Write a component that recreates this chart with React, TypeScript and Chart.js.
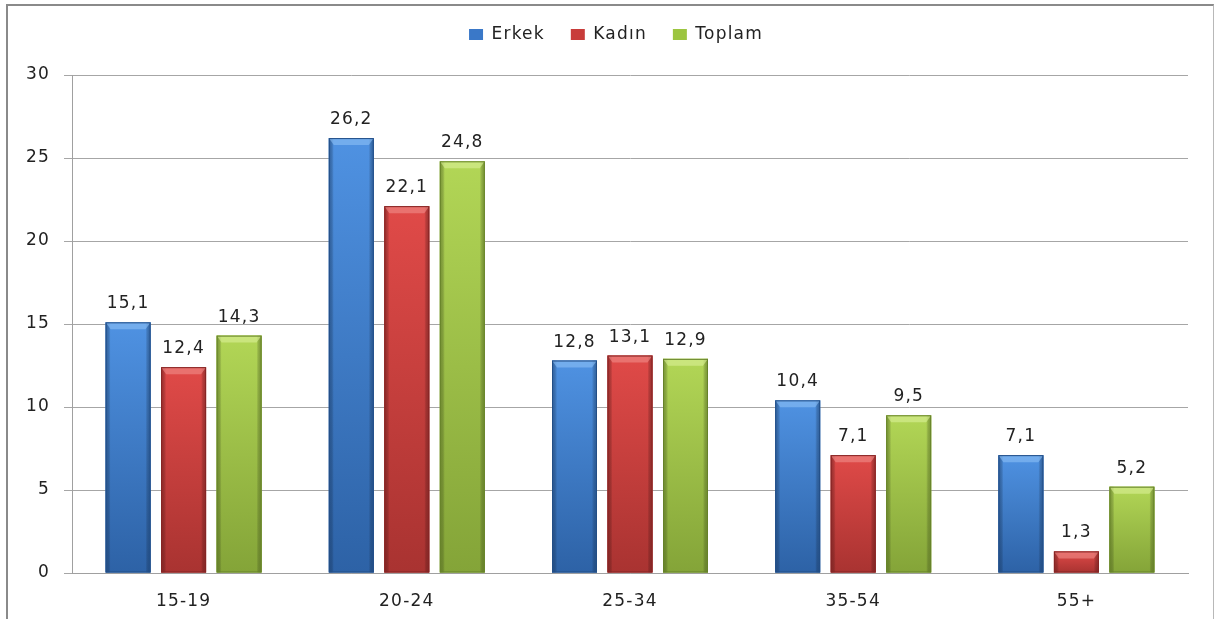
import React, { useEffect, useRef } from "react";
import { Chart, registerables } from "chart.js";

Chart.register(...registerables);

const categories = ["15-19", "20-24", "25-34", "35-54", "55+"];
const seriesNames = ["Erkek", "Kadın", "Toplam"];
const erkek = [15.1, 26.2, 12.8, 10.4, 7.1];
const kadin = [12.4, 22.1, 13.1, 7.1, 1.3];
const toplam = [14.3, 24.8, 12.9, 9.5, 5.2];
const yTickValues = [0, 5, 10, 15, 20, 25, 30];

const palettes = [
  { base: "#3a78c8", top: "#4f92e2", bottom: "#2d62a6", edge: "#234e86", light: "#8cc0f5" },
  { base: "#c83c3a", top: "#e04a48", bottom: "#a93331", edge: "#842524", light: "#f08e8b" },
  { base: "#9cc540", top: "#b2d656", bottom: "#84a438", edge: "#66822a", light: "#daf098" },
];

const FONT = "'DejaVu Sans', sans-serif";
const FS = 17;
const SPACING = "1.2px";

const spacingPlugin = {
  id: "letterSpacing",
  beforeUpdate(chart: any) {
    (chart.ctx as any).letterSpacing = SPACING;
  },
  beforeDraw(chart: any) {
    (chart.ctx as any).letterSpacing = SPACING;
  },
};

const barStylePlugin = {
  id: "barStyle",
  afterDatasetsDraw(chart: any) {
    const ctx = chart.ctx as CanvasRenderingContext2D;
    chart.data.datasets.forEach((_ds: any, i: number) => {
      const meta = chart.getDatasetMeta(i);
      const p = palettes[i];
      meta.data.forEach((el: any) => {
        const { x, y, base, width } = el.getProps(["x", "y", "base", "width"], true);
        const l = x - width / 2;
        const r = x + width / 2;
        const t = Math.min(y, base);
        const b = Math.max(y, base);
        const h = b - t;
        ctx.save();
        const g = ctx.createLinearGradient(0, t, 0, b);
        g.addColorStop(0, p.top);
        g.addColorStop(1, p.bottom);
        ctx.fillStyle = g;
        ctx.fillRect(l, t, width, h);
        const ew = Math.min(5, width / 6);
        const gl = ctx.createLinearGradient(l, 0, l + ew, 0);
        gl.addColorStop(0, p.edge);
        gl.addColorStop(1, "rgba(0,0,0,0)");
        ctx.globalAlpha = 0.6;
        ctx.fillStyle = gl;
        ctx.fillRect(l, t, ew, h);
        const gr = ctx.createLinearGradient(r - ew, 0, r, 0);
        gr.addColorStop(0, "rgba(0,0,0,0)");
        gr.addColorStop(1, p.edge);
        ctx.fillStyle = gr;
        ctx.fillRect(r - ew, t, ew, h);
        const bh = Math.min(7, h / 2);
        ctx.globalAlpha = 0.6;
        ctx.beginPath();
        ctx.moveTo(l, t);
        ctx.lineTo(r, t);
        ctx.lineTo(r - ew, t + bh);
        ctx.lineTo(l + ew, t + bh);
        ctx.closePath();
        ctx.fillStyle = p.light;
        ctx.fill();
        ctx.globalAlpha = 1;
        ctx.strokeStyle = p.edge;
        ctx.lineWidth = 1;
        ctx.strokeRect(l + 0.5, t + 0.5, width - 1, h - 1);
        ctx.restore();
      });
    });
  },
};

const valueLabelPlugin = {
  id: "valueLabels",
  afterDatasetsDraw(chart: any) {
    const ctx = chart.ctx as CanvasRenderingContext2D;
    ctx.save();
    (ctx as any).letterSpacing = SPACING;
    ctx.font = `${FS}px ${FONT}`;
    ctx.fillStyle = "#222";
    ctx.textAlign = "center";
    ctx.textBaseline = "alphabetic";
    chart.data.datasets.forEach((ds: any, i: number) => {
      const meta = chart.getDatasetMeta(i);
      meta.data.forEach((el: any, j: number) => {
        const v = ds.data[j] as number;
        ctx.fillText(v.toFixed(1).replace(".", ","), el.x, el.y - 14);
      });
    });
    ctx.restore();
  },
};

const legendSpacePlugin = {
  id: "legendSpace",
  afterInit(chart: any) {
    const lg = chart.legend;
    if (lg && !lg.__patched) {
      const origFit = lg.fit;
      lg.fit = function () {
        origFit.call(this);
        this.height = 75;
      };
      const origDraw = lg.draw;
      lg.draw = function (...args: any[]) {
        const c = this.ctx as CanvasRenderingContext2D;
        c.save();
        c.translate(22, 0);
        origDraw.apply(this, args);
        c.restore();
      };
      lg.__patched = true;
    }
  },
};

export default function App() {
  const ref = useRef<HTMLCanvasElement | null>(null);

  useEffect(() => {
    if (!ref.current) return;
    const data = [erkek, kadin, toplam];
    const chart = new Chart(ref.current, {
      type: "bar",
      data: {
        labels: categories,
        datasets: seriesNames.map((name, i) => ({
          label: name,
          data: data[i],
          backgroundColor: palettes[i].base,
          borderColor: palettes[i].edge,
          borderWidth: 0,
          barPercentage: 0.81,
          categoryPercentage: 0.746,
        })),
      },
      options: {
        animation: false,
        responsive: false,
        maintainAspectRatio: false,
        layout: { padding: { top: 0, right: 27, bottom: 0, left: 0 } },
        plugins: {
          legend: {
            position: "top",
            labels: {
              font: { family: FONT, size: FS },
              color: "#222",
              boxWidth: 14,
              boxHeight: 11,
              padding: 26,
            },
          },
          tooltip: { enabled: false },
        },
        scales: {
          x: {
            grid: { display: false, drawTicks: false },
            border: { display: true, color: "#a0a0a0", width: 1 },
            ticks: { font: { family: FONT, size: FS }, color: "#222", padding: 18 },
            afterFit(scale: any) {
              scale.height = 46;
            },
          },
          y: {
            min: 0,
            max: 30,
            afterBuildTicks(scale: any) {
              scale.ticks = yTickValues.map((v) => ({ value: v }));
            },
            grid: { color: "#a6a6a6", lineWidth: 1, drawTicks: true, tickLength: 8 },
            border: { display: true, color: "#a0a0a0", width: 1 },
            ticks: { font: { family: FONT, size: FS }, color: "#222", padding: 14 },
            afterFit(scale: any) {
              scale.width = 72;
            },
          },
        },
      },
      plugins: [spacingPlugin, legendSpacePlugin, barStylePlugin, valueLabelPlugin],
    });
    return () => chart.destroy();
  }, []);

  return (
    <div style={{ position: "absolute", left: 0, top: 0, width: 1215, height: 619, background: "#fff", overflow: "hidden" }}>
      <canvas ref={ref} width={1215} height={619} style={{ position: "absolute", left: 0, top: 0 }} />
      <div
        style={{
          position: "absolute",
          left: 6,
          top: 4,
          width: 1205,
          height: 640,
          borderLeft: "2px solid #8a8a8a",
          borderTop: "2px solid #8a8a8a",
          borderRight: "1px solid #b8b8b8",
          pointerEvents: "none",
        }}
      />
    </div>
  );
}
